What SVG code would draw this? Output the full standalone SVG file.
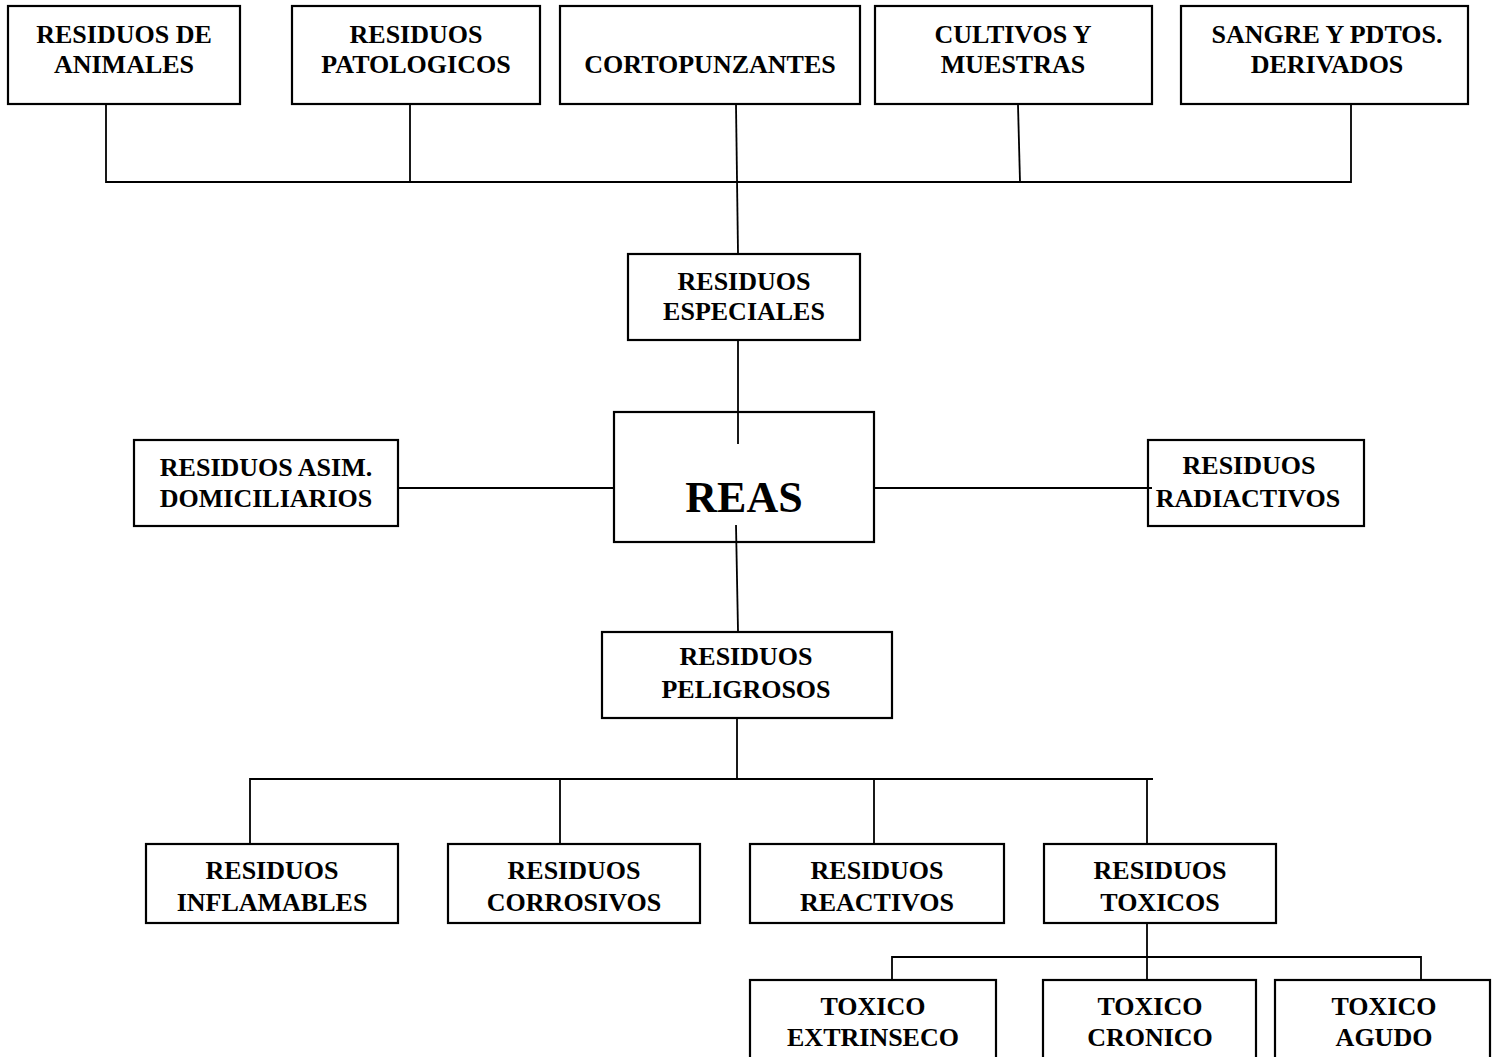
<svg xmlns="http://www.w3.org/2000/svg" width="1499" height="1057" viewBox="0 0 1499 1057">
<style>
.box{fill:#fff;stroke:#000;stroke-width:2.2}
.ln{fill:none;stroke:#000;stroke-width:1.8}
text{font-family:"Liberation Serif","Times New Roman",serif;font-weight:bold;font-size:26px;text-anchor:middle;fill:#000}
.big{font-size:44px}
</style>
<rect width="1499" height="1057" fill="#fff"/>
<g id="n-animales"><rect class="box" x="8" y="6" width="232" height="98"/><text x="124" y="43">RESIDUOS DE</text><text x="124" y="73">ANIMALES</text></g>
<g id="n-patologicos"><rect class="box" x="292" y="6" width="248" height="98"/><text x="416" y="43">RESIDUOS</text><text x="416" y="73">PATOLOGICOS</text></g>
<g id="n-cortopunzantes"><rect class="box" x="560" y="6" width="300" height="98"/><text x="710" y="73">CORTOPUNZANTES</text></g>
<g id="n-cultivos"><rect class="box" x="875" y="6" width="277" height="98"/><text x="1013" y="43">CULTIVOS Y</text><text x="1013" y="73">MUESTRAS</text></g>
<g id="n-sangre"><rect class="box" x="1181" y="6" width="287" height="98"/><text x="1327" y="43">SANGRE Y PDTOS.</text><text x="1327" y="73">DERIVADOS</text></g>
<g id="n-especiales"><rect class="box" x="628" y="254" width="232" height="86"/><text x="744" y="290">RESIDUOS</text><text x="744" y="320">ESPECIALES</text></g>
<g id="n-reas"><rect class="box" x="614" y="412" width="260" height="130"/><text class="big" x="744" y="512">REAS</text></g>
<g id="n-asim"><rect class="box" x="134" y="440" width="264" height="86"/><text x="266" y="476">RESIDUOS ASIM.</text><text x="266" y="507">DOMICILIARIOS</text></g>
<g id="n-radiactivos"><rect class="box" x="1148" y="440" width="216" height="86"/><text x="1249" y="474">RESIDUOS</text><text x="1248" y="507">RADIACTIVOS</text></g>
<g id="n-peligrosos"><rect class="box" x="602" y="632" width="290" height="86"/><text x="746" y="665">RESIDUOS</text><text x="746" y="698">PELIGROSOS</text></g>
<g id="n-inflamables"><rect class="box" x="146" y="844" width="252" height="79"/><text x="272" y="879">RESIDUOS</text><text x="272" y="911">INFLAMABLES</text></g>
<g id="n-corrosivos"><rect class="box" x="448" y="844" width="252" height="79"/><text x="574" y="879">RESIDUOS</text><text x="574" y="911">CORROSIVOS</text></g>
<g id="n-reactivos"><rect class="box" x="750" y="844" width="254" height="79"/><text x="877" y="879">RESIDUOS</text><text x="877" y="911">REACTIVOS</text></g>
<g id="n-toxicos"><rect class="box" x="1044" y="844" width="232" height="79"/><text x="1160" y="879">RESIDUOS</text><text x="1160" y="911">TOXICOS</text></g>
<g id="n-extrinseco"><rect class="box" x="750" y="980" width="246" height="100"/><text x="873" y="1015">TOXICO</text><text x="873" y="1046">EXTRINSECO</text></g>
<g id="n-cronico"><rect class="box" x="1043" y="980" width="213" height="100"/><text x="1150" y="1015">TOXICO</text><text x="1150" y="1046">CRONICO</text></g>
<g id="n-agudo"><rect class="box" x="1275" y="980" width="215" height="100"/><text x="1384" y="1015">TOXICO</text><text x="1384" y="1046">AGUDO</text></g>
<g id="connectors">
<path class="ln" d="M106,105V182H1351V105"/>
<path class="ln" d="M410,105V182"/>
<path class="ln" d="M1018,105L1020,182"/>
<path class="ln" d="M736,105L738,253"/>
<path class="ln" d="M738,341V444"/>
<path class="ln" d="M399,488H613"/>
<path class="ln" d="M875,488H1152"/>
<path class="ln" d="M736,525L738,631"/>
<path class="ln" d="M737,719V779"/>
<path class="ln" d="M250,843V779H1153"/>
<path class="ln" d="M560,779V843"/>
<path class="ln" d="M874,779V843"/>
<path class="ln" d="M1147,779V843"/>
<path class="ln" d="M1147,924V979"/>
<path class="ln" d="M892,979V957H1421V979"/>
</g>
</svg>
